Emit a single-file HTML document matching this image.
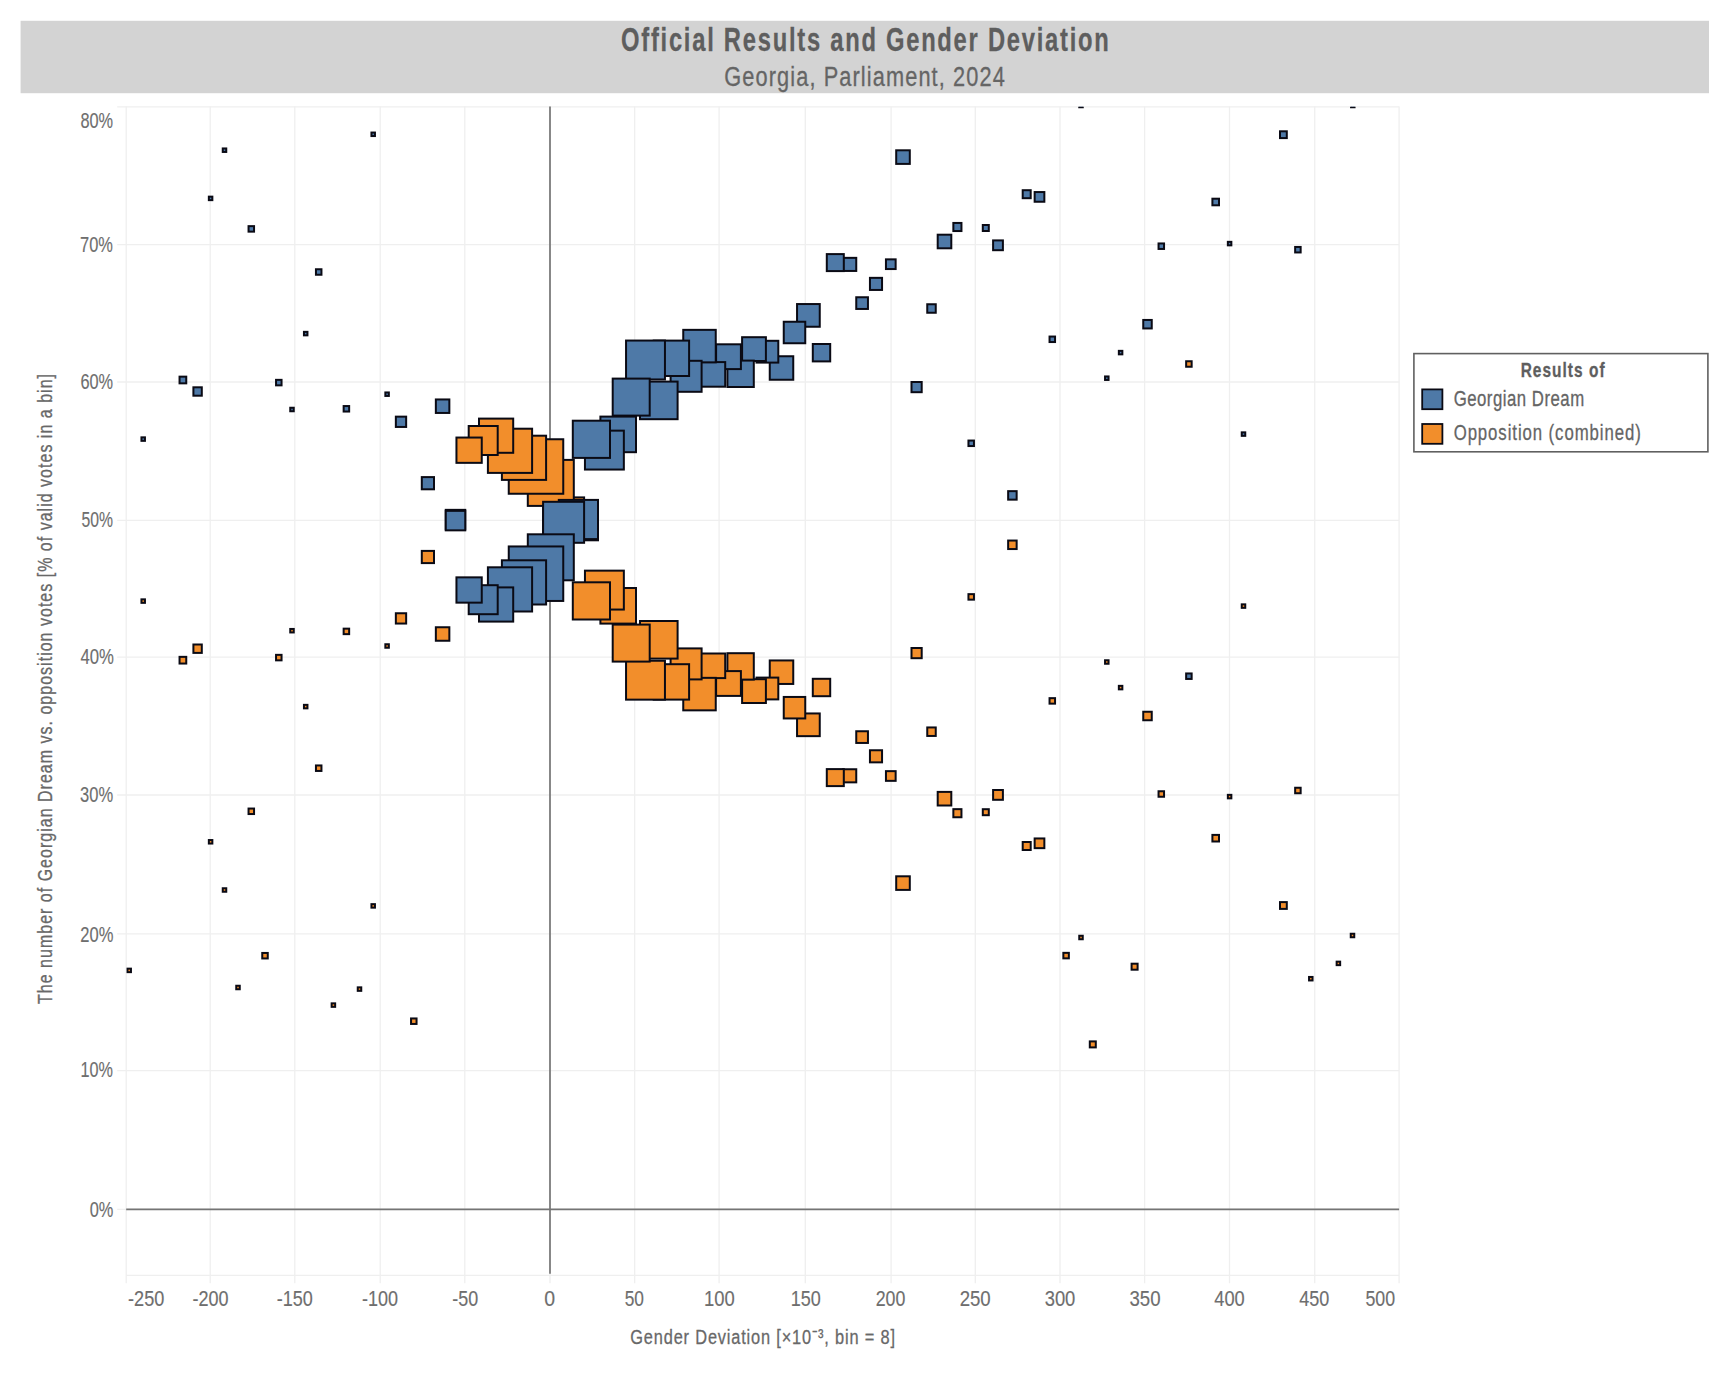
<!DOCTYPE html>
<html><head><meta charset="utf-8"><style>
html,body{margin:0;padding:0;background:#fff;overflow:hidden;}
svg{display:block;}
text{font-family:"Liberation Sans",sans-serif;}
</style></head><body>
<svg width="1732" height="1386" viewBox="0 0 1732 1386">
<rect x="0" y="0" width="1732" height="1386" fill="#fff"/>
<rect x="20.6" y="20.8" width="1688.4" height="72.4" fill="#d3d3d3"/>
<g stroke="#efefef" stroke-width="1.3" fill="none">
<line x1="126.20" y1="106.5" x2="126.20" y2="1283.3"/>
<line x1="210.20" y1="106.5" x2="210.20" y2="1283.3"/>
<line x1="294.80" y1="106.5" x2="294.80" y2="1283.3"/>
<line x1="380.20" y1="106.5" x2="380.20" y2="1283.3"/>
<line x1="464.80" y1="106.5" x2="464.80" y2="1283.3"/>
<line x1="550.00" y1="106.5" x2="550.00" y2="1283.3"/>
<line x1="634.70" y1="106.5" x2="634.70" y2="1283.3"/>
<line x1="719.10" y1="106.5" x2="719.10" y2="1283.3"/>
<line x1="805.30" y1="106.5" x2="805.30" y2="1283.3"/>
<line x1="891.10" y1="106.5" x2="891.10" y2="1283.3"/>
<line x1="975.30" y1="106.5" x2="975.30" y2="1283.3"/>
<line x1="1060.00" y1="106.5" x2="1060.00" y2="1283.3"/>
<line x1="1144.60" y1="106.5" x2="1144.60" y2="1283.3"/>
<line x1="1229.50" y1="106.5" x2="1229.50" y2="1283.3"/>
<line x1="1314.75" y1="106.5" x2="1314.75" y2="1283.3"/>
<line x1="1399.10" y1="106.5" x2="1399.10" y2="1283.3"/>
<line x1="117.2" y1="1209.30" x2="1399.1" y2="1209.30"/>
<line x1="117.2" y1="1070.60" x2="1399.1" y2="1070.60"/>
<line x1="117.2" y1="933.90" x2="1399.1" y2="933.90"/>
<line x1="117.2" y1="795.00" x2="1399.1" y2="795.00"/>
<line x1="117.2" y1="657.10" x2="1399.1" y2="657.10"/>
<line x1="117.2" y1="520.40" x2="1399.1" y2="520.40"/>
<line x1="117.2" y1="382.00" x2="1399.1" y2="382.00"/>
<line x1="117.2" y1="244.70" x2="1399.1" y2="244.70"/>
<line x1="117.2" y1="106.80" x2="1399.1" y2="106.80"/>
<line x1="126.2" y1="1275.3" x2="1399.1" y2="1275.3"/>
</g>
<line x1="550.0" y1="106.5" x2="550.0" y2="1273.8" stroke="#747474" stroke-width="1.7"/>
<line x1="126.2" y1="1209.3" x2="1399.1" y2="1209.3" stroke="#747474" stroke-width="1.7"/>
<text transform="translate(52.1,1004) rotate(-90) scale(0.78,1)" x="0" y="0" font-size="20.5" fill="#686868" stroke="#686868" stroke-width="0.3" textLength="807.69" lengthAdjust="spacing">The number of Georgian Dream vs. opposition votes [% of valid votes in a bin]</text>
<defs><clipPath id="pc"><rect x="126.2" y="106.8" width="1272.8999999999999" height="1168.5"/></clipPath></defs>
<g clip-path="url(#pc)" stroke="#0a0a14" stroke-width="2.0">
<rect x="1350.75" y="933.75" width="3.50" height="3.50" fill="#f28e2b"/>
<rect x="1336.65" y="961.65" width="3.50" height="3.50" fill="#f28e2b"/>
<rect x="1309.05" y="976.95" width="3.50" height="3.50" fill="#f28e2b"/>
<rect x="1295.15" y="787.75" width="5.50" height="5.50" fill="#f28e2b"/>
<rect x="1280.00" y="902.10" width="6.80" height="6.80" fill="#f28e2b"/>
<rect x="1241.75" y="604.35" width="3.50" height="3.50" fill="#f28e2b"/>
<rect x="1227.85" y="794.85" width="3.50" height="3.50" fill="#f28e2b"/>
<rect x="1212.40" y="834.90" width="6.60" height="6.60" fill="#f28e2b"/>
<rect x="1186.15" y="361.25" width="5.50" height="5.50" fill="#f28e2b"/>
<rect x="1158.55" y="791.25" width="5.50" height="5.50" fill="#f28e2b"/>
<rect x="1143.25" y="711.75" width="8.50" height="8.50" fill="#f28e2b"/>
<rect x="1131.60" y="963.70" width="6.00" height="6.00" fill="#f28e2b"/>
<rect x="1118.85" y="685.85" width="3.50" height="3.50" fill="#f28e2b"/>
<rect x="1105.05" y="660.25" width="3.50" height="3.50" fill="#f28e2b"/>
<rect x="1089.80" y="1041.40" width="6.00" height="6.00" fill="#f28e2b"/>
<rect x="1079.25" y="935.75" width="3.50" height="3.50" fill="#f28e2b"/>
<rect x="1063.35" y="952.85" width="5.50" height="5.50" fill="#f28e2b"/>
<rect x="1049.55" y="698.15" width="5.50" height="5.50" fill="#f28e2b"/>
<rect x="1034.65" y="838.45" width="9.70" height="9.70" fill="#f28e2b"/>
<rect x="1022.70" y="842.00" width="8.00" height="8.00" fill="#f28e2b"/>
<rect x="1008.15" y="540.55" width="8.50" height="8.50" fill="#f28e2b"/>
<rect x="993.10" y="790.00" width="9.80" height="9.80" fill="#f28e2b"/>
<rect x="982.80" y="809.20" width="6.00" height="6.00" fill="#f28e2b"/>
<rect x="968.45" y="594.15" width="5.50" height="5.50" fill="#f28e2b"/>
<rect x="953.35" y="809.15" width="8.10" height="8.10" fill="#f28e2b"/>
<rect x="937.70" y="791.90" width="13.60" height="13.60" fill="#f28e2b"/>
<rect x="927.25" y="727.45" width="8.50" height="8.50" fill="#f28e2b"/>
<rect x="911.50" y="648.00" width="10.20" height="10.20" fill="#f28e2b"/>
<rect x="896.20" y="876.30" width="13.60" height="13.60" fill="#f28e2b"/>
<rect x="885.95" y="771.15" width="9.70" height="9.70" fill="#f28e2b"/>
<rect x="869.95" y="750.25" width="12.10" height="12.10" fill="#f28e2b"/>
<rect x="856.25" y="731.25" width="11.70" height="11.70" fill="#f28e2b"/>
<rect x="843.15" y="769.25" width="13.10" height="13.10" fill="#f28e2b"/>
<rect x="826.80" y="769.10" width="17.00" height="17.00" fill="#f28e2b"/>
<rect x="812.80" y="678.80" width="17.40" height="17.40" fill="#f28e2b"/>
<rect x="797.05" y="713.45" width="22.70" height="22.70" fill="#f28e2b"/>
<rect x="783.75" y="696.95" width="21.50" height="21.50" fill="#f28e2b"/>
<rect x="769.75" y="660.45" width="23.50" height="23.50" fill="#f28e2b"/>
<rect x="756.50" y="677.60" width="21.80" height="21.80" fill="#f28e2b"/>
<rect x="742.10" y="679.20" width="23.80" height="23.80" fill="#f28e2b"/>
<rect x="727.40" y="653.20" width="26.40" height="26.40" fill="#f28e2b"/>
<rect x="716.10" y="671.10" width="24.80" height="24.80" fill="#f28e2b"/>
<rect x="700.60" y="653.50" width="24.60" height="24.60" fill="#f28e2b"/>
<rect x="683.25" y="677.85" width="32.50" height="32.50" fill="#f28e2b"/>
<rect x="670.60" y="648.40" width="31.00" height="31.00" fill="#f28e2b"/>
<rect x="653.70" y="664.20" width="35.40" height="35.40" fill="#f28e2b"/>
<rect x="640.00" y="621.00" width="37.60" height="37.60" fill="#f28e2b"/>
<rect x="626.05" y="660.75" width="38.90" height="38.90" fill="#f28e2b"/>
<rect x="612.70" y="624.60" width="37.00" height="37.00" fill="#f28e2b"/>
<rect x="600.40" y="588.00" width="35.60" height="35.60" fill="#f28e2b"/>
<rect x="584.95" y="570.65" width="38.90" height="38.90" fill="#f28e2b"/>
<rect x="572.80" y="582.30" width="37.20" height="37.20" fill="#f28e2b"/>
<rect x="558.80" y="501.10" width="39.20" height="39.20" fill="#f28e2b"/>
<rect x="543.10" y="497.40" width="41.00" height="41.00" fill="#f28e2b"/>
<rect x="527.80" y="459.90" width="46.00" height="46.00" fill="#f28e2b"/>
<rect x="508.75" y="439.25" width="54.50" height="54.50" fill="#f28e2b"/>
<rect x="501.90" y="435.70" width="44.20" height="44.20" fill="#f28e2b"/>
<rect x="487.90" y="428.70" width="44.20" height="44.20" fill="#f28e2b"/>
<rect x="479.00" y="418.60" width="34.20" height="34.20" fill="#f28e2b"/>
<rect x="468.70" y="426.00" width="29.00" height="29.00" fill="#f28e2b"/>
<rect x="456.45" y="437.55" width="25.30" height="25.30" fill="#f28e2b"/>
<rect x="445.75" y="509.85" width="19.50" height="19.50" fill="#f28e2b"/>
<rect x="435.85" y="627.25" width="13.50" height="13.50" fill="#f28e2b"/>
<rect x="421.80" y="550.90" width="12.20" height="12.20" fill="#f28e2b"/>
<rect x="411.05" y="1018.45" width="5.50" height="5.50" fill="#f28e2b"/>
<rect x="395.85" y="613.25" width="10.30" height="10.30" fill="#f28e2b"/>
<rect x="385.35" y="644.25" width="3.50" height="3.50" fill="#f28e2b"/>
<rect x="371.45" y="904.15" width="3.50" height="3.50" fill="#f28e2b"/>
<rect x="357.75" y="987.35" width="3.50" height="3.50" fill="#f28e2b"/>
<rect x="343.65" y="628.65" width="5.50" height="5.50" fill="#f28e2b"/>
<rect x="331.65" y="1003.35" width="3.50" height="3.50" fill="#f28e2b"/>
<rect x="315.95" y="765.45" width="5.50" height="5.50" fill="#f28e2b"/>
<rect x="303.95" y="704.85" width="3.50" height="3.50" fill="#f28e2b"/>
<rect x="290.25" y="628.95" width="3.50" height="3.50" fill="#f28e2b"/>
<rect x="276.05" y="654.85" width="5.50" height="5.50" fill="#f28e2b"/>
<rect x="262.25" y="952.95" width="5.50" height="5.50" fill="#f28e2b"/>
<rect x="248.55" y="808.55" width="5.50" height="5.50" fill="#f28e2b"/>
<rect x="236.25" y="985.75" width="3.50" height="3.50" fill="#f28e2b"/>
<rect x="222.75" y="888.25" width="3.50" height="3.50" fill="#f28e2b"/>
<rect x="208.85" y="840.05" width="3.50" height="3.50" fill="#f28e2b"/>
<rect x="193.40" y="644.50" width="8.40" height="8.40" fill="#f28e2b"/>
<rect x="179.55" y="656.85" width="6.70" height="6.70" fill="#f28e2b"/>
<rect x="141.45" y="599.35" width="3.50" height="3.50" fill="#f28e2b"/>
<rect x="127.45" y="968.65" width="3.50" height="3.50" fill="#f28e2b"/>
<rect x="1351.05" y="103.75" width="3.50" height="3.50" fill="#4e79a7"/>
<rect x="1336.65" y="75.05" width="3.50" height="3.50" fill="#4e79a7"/>
<rect x="1309.05" y="59.75" width="3.50" height="3.50" fill="#4e79a7"/>
<rect x="1295.15" y="246.95" width="5.50" height="5.50" fill="#4e79a7"/>
<rect x="1280.00" y="131.30" width="6.80" height="6.80" fill="#4e79a7"/>
<rect x="1241.75" y="432.35" width="3.50" height="3.50" fill="#4e79a7"/>
<rect x="1227.85" y="241.85" width="3.50" height="3.50" fill="#4e79a7"/>
<rect x="1212.40" y="198.70" width="6.60" height="6.60" fill="#4e79a7"/>
<rect x="1186.15" y="673.45" width="5.50" height="5.50" fill="#4e79a7"/>
<rect x="1158.55" y="243.45" width="5.50" height="5.50" fill="#4e79a7"/>
<rect x="1143.25" y="319.95" width="8.50" height="8.50" fill="#4e79a7"/>
<rect x="1131.60" y="70.50" width="6.00" height="6.00" fill="#4e79a7"/>
<rect x="1118.85" y="350.85" width="3.50" height="3.50" fill="#4e79a7"/>
<rect x="1105.05" y="376.45" width="3.50" height="3.50" fill="#4e79a7"/>
<rect x="1089.80" y="-7.20" width="6.00" height="6.00" fill="#4e79a7"/>
<rect x="1079.25" y="103.75" width="3.50" height="3.50" fill="#4e79a7"/>
<rect x="1063.35" y="81.85" width="5.50" height="5.50" fill="#4e79a7"/>
<rect x="1049.55" y="336.55" width="5.50" height="5.50" fill="#4e79a7"/>
<rect x="1034.65" y="192.05" width="9.70" height="9.70" fill="#4e79a7"/>
<rect x="1022.70" y="190.20" width="8.00" height="8.00" fill="#4e79a7"/>
<rect x="1008.15" y="491.15" width="8.50" height="8.50" fill="#4e79a7"/>
<rect x="993.10" y="240.40" width="9.80" height="9.80" fill="#4e79a7"/>
<rect x="982.80" y="225.00" width="6.00" height="6.00" fill="#4e79a7"/>
<rect x="968.45" y="440.55" width="5.50" height="5.50" fill="#4e79a7"/>
<rect x="953.35" y="222.95" width="8.10" height="8.10" fill="#4e79a7"/>
<rect x="937.70" y="234.70" width="13.60" height="13.60" fill="#4e79a7"/>
<rect x="927.25" y="304.25" width="8.50" height="8.50" fill="#4e79a7"/>
<rect x="911.50" y="382.00" width="10.20" height="10.20" fill="#4e79a7"/>
<rect x="896.20" y="150.30" width="13.60" height="13.60" fill="#4e79a7"/>
<rect x="885.95" y="259.35" width="9.70" height="9.70" fill="#4e79a7"/>
<rect x="869.95" y="277.85" width="12.10" height="12.10" fill="#4e79a7"/>
<rect x="856.25" y="297.25" width="11.70" height="11.70" fill="#4e79a7"/>
<rect x="843.15" y="257.85" width="13.10" height="13.10" fill="#4e79a7"/>
<rect x="826.80" y="254.10" width="17.00" height="17.00" fill="#4e79a7"/>
<rect x="812.80" y="344.00" width="17.40" height="17.40" fill="#4e79a7"/>
<rect x="797.05" y="304.05" width="22.70" height="22.70" fill="#4e79a7"/>
<rect x="783.75" y="321.75" width="21.50" height="21.50" fill="#4e79a7"/>
<rect x="769.75" y="356.25" width="23.50" height="23.50" fill="#4e79a7"/>
<rect x="756.50" y="340.80" width="21.80" height="21.80" fill="#4e79a7"/>
<rect x="742.10" y="337.20" width="23.80" height="23.80" fill="#4e79a7"/>
<rect x="727.40" y="360.60" width="26.40" height="26.40" fill="#4e79a7"/>
<rect x="716.10" y="344.30" width="24.80" height="24.80" fill="#4e79a7"/>
<rect x="700.60" y="362.10" width="24.60" height="24.60" fill="#4e79a7"/>
<rect x="683.25" y="329.85" width="32.50" height="32.50" fill="#4e79a7"/>
<rect x="670.60" y="360.80" width="31.00" height="31.00" fill="#4e79a7"/>
<rect x="653.70" y="340.60" width="35.40" height="35.40" fill="#4e79a7"/>
<rect x="640.00" y="381.60" width="37.60" height="37.60" fill="#4e79a7"/>
<rect x="626.05" y="340.55" width="38.90" height="38.90" fill="#4e79a7"/>
<rect x="612.70" y="378.60" width="37.00" height="37.00" fill="#4e79a7"/>
<rect x="600.40" y="416.60" width="35.60" height="35.60" fill="#4e79a7"/>
<rect x="584.95" y="430.65" width="38.90" height="38.90" fill="#4e79a7"/>
<rect x="572.80" y="420.70" width="37.20" height="37.20" fill="#4e79a7"/>
<rect x="558.80" y="499.90" width="39.20" height="39.20" fill="#4e79a7"/>
<rect x="543.10" y="501.80" width="41.00" height="41.00" fill="#4e79a7"/>
<rect x="527.80" y="534.30" width="46.00" height="46.00" fill="#4e79a7"/>
<rect x="508.75" y="546.45" width="54.50" height="54.50" fill="#4e79a7"/>
<rect x="501.90" y="560.30" width="44.20" height="44.20" fill="#4e79a7"/>
<rect x="487.90" y="567.30" width="44.20" height="44.20" fill="#4e79a7"/>
<rect x="479.00" y="587.40" width="34.20" height="34.20" fill="#4e79a7"/>
<rect x="468.70" y="585.20" width="29.00" height="29.00" fill="#4e79a7"/>
<rect x="456.45" y="577.35" width="25.30" height="25.30" fill="#4e79a7"/>
<rect x="445.75" y="510.85" width="19.50" height="19.50" fill="#4e79a7"/>
<rect x="435.85" y="399.45" width="13.50" height="13.50" fill="#4e79a7"/>
<rect x="421.80" y="477.10" width="12.20" height="12.20" fill="#4e79a7"/>
<rect x="411.05" y="16.25" width="5.50" height="5.50" fill="#4e79a7"/>
<rect x="395.85" y="416.65" width="10.30" height="10.30" fill="#4e79a7"/>
<rect x="385.35" y="392.45" width="3.50" height="3.50" fill="#4e79a7"/>
<rect x="371.45" y="132.55" width="3.50" height="3.50" fill="#4e79a7"/>
<rect x="357.75" y="49.35" width="3.50" height="3.50" fill="#4e79a7"/>
<rect x="343.65" y="406.05" width="5.50" height="5.50" fill="#4e79a7"/>
<rect x="331.65" y="33.35" width="3.50" height="3.50" fill="#4e79a7"/>
<rect x="315.95" y="269.25" width="5.50" height="5.50" fill="#4e79a7"/>
<rect x="303.95" y="331.85" width="3.50" height="3.50" fill="#4e79a7"/>
<rect x="290.25" y="407.75" width="3.50" height="3.50" fill="#4e79a7"/>
<rect x="276.05" y="379.85" width="5.50" height="5.50" fill="#4e79a7"/>
<rect x="262.25" y="81.75" width="5.50" height="5.50" fill="#4e79a7"/>
<rect x="248.55" y="226.15" width="5.50" height="5.50" fill="#4e79a7"/>
<rect x="236.25" y="50.95" width="3.50" height="3.50" fill="#4e79a7"/>
<rect x="222.75" y="148.45" width="3.50" height="3.50" fill="#4e79a7"/>
<rect x="208.85" y="196.65" width="3.50" height="3.50" fill="#4e79a7"/>
<rect x="193.40" y="387.30" width="8.40" height="8.40" fill="#4e79a7"/>
<rect x="179.55" y="376.65" width="6.70" height="6.70" fill="#4e79a7"/>
<rect x="141.45" y="437.35" width="3.50" height="3.50" fill="#4e79a7"/>
<rect x="127.45" y="68.05" width="3.50" height="3.50" fill="#4e79a7"/>
</g>
<rect x="1413.9" y="353.6" width="294" height="98.2" fill="#fff" stroke="#606060" stroke-width="1.6"/>
<rect x="1422.2" y="389.4" width="20.2" height="19.8" fill="#4e79a7" stroke="#0a0a14" stroke-width="1.8"/>
<rect x="1422.2" y="424.0" width="20.2" height="19.8" fill="#f28e2b" stroke="#0a0a14" stroke-width="1.8"/>
<text transform="translate(864.90,51.30) scale(0.72,1)" x="0" y="0" text-anchor="middle" font-size="33.00" font-weight="bold" fill="#5e5e5e" stroke="#5e5e5e" stroke-width="0.3" textLength="677.36" lengthAdjust="spacing">Official Results and Gender Deviation</text>
<text transform="translate(864.50,85.90) scale(0.8,1)" x="0" y="0" text-anchor="middle" font-size="27.20" font-weight="normal" fill="#656565" stroke="#656565" stroke-width="0.3" textLength="350.62" lengthAdjust="spacing">Georgia, Parliament, 2024</text>
<text transform="translate(1562.60,376.80) scale(0.75,1)" x="0" y="0" text-anchor="middle" font-size="20.60" font-weight="bold" fill="#5e5e5e" stroke="#5e5e5e" stroke-width="0.3" textLength="111.86" lengthAdjust="spacing">Results of</text>
<text transform="translate(1518.90,406.30) scale(0.78,1)" x="0" y="0" text-anchor="middle" font-size="21.50" font-weight="normal" fill="#656565" stroke="#656565" stroke-width="0.3" textLength="167.30" lengthAdjust="spacing">Georgian Dream</text>
<text transform="translate(1547.20,440.40) scale(0.78,1)" x="0" y="0" text-anchor="middle" font-size="21.50" font-weight="normal" fill="#656565" stroke="#656565" stroke-width="0.3" textLength="239.88" lengthAdjust="spacing">Opposition (combined)</text>
<text x="146.20" y="1306.10" text-anchor="middle" font-size="21.90" font-weight="normal" fill="#6e6e6e" stroke="#6e6e6e" stroke-width="0.15" textLength="36.30" lengthAdjust="spacingAndGlyphs">-250</text>
<text x="210.50" y="1306.10" text-anchor="middle" font-size="21.90" font-weight="normal" fill="#6e6e6e" stroke="#6e6e6e" stroke-width="0.15" textLength="36.08" lengthAdjust="spacingAndGlyphs">-200</text>
<text x="294.70" y="1306.10" text-anchor="middle" font-size="21.90" font-weight="normal" fill="#6e6e6e" stroke="#6e6e6e" stroke-width="0.15" textLength="36.09" lengthAdjust="spacingAndGlyphs">-150</text>
<text x="380.10" y="1306.10" text-anchor="middle" font-size="21.90" font-weight="normal" fill="#6e6e6e" stroke="#6e6e6e" stroke-width="0.15" textLength="36.09" lengthAdjust="spacingAndGlyphs">-100</text>
<text x="465.20" y="1306.10" text-anchor="middle" font-size="21.90" font-weight="normal" fill="#6e6e6e" stroke="#6e6e6e" stroke-width="0.15" textLength="25.89" lengthAdjust="spacingAndGlyphs">-50</text>
<text x="549.70" y="1306.10" text-anchor="middle" font-size="21.90" font-weight="normal" fill="#6e6e6e" stroke="#6e6e6e" stroke-width="0.15" textLength="10.86" lengthAdjust="spacingAndGlyphs">0</text>
<text x="634.30" y="1306.10" text-anchor="middle" font-size="21.90" font-weight="normal" fill="#6e6e6e" stroke="#6e6e6e" stroke-width="0.15" textLength="19.27" lengthAdjust="spacingAndGlyphs">50</text>
<text x="719.40" y="1306.10" text-anchor="middle" font-size="21.90" font-weight="normal" fill="#6e6e6e" stroke="#6e6e6e" stroke-width="0.15" textLength="30.75" lengthAdjust="spacingAndGlyphs">100</text>
<text x="805.70" y="1306.10" text-anchor="middle" font-size="21.90" font-weight="normal" fill="#6e6e6e" stroke="#6e6e6e" stroke-width="0.15" textLength="30.09" lengthAdjust="spacingAndGlyphs">150</text>
<text x="890.50" y="1306.10" text-anchor="middle" font-size="21.90" font-weight="normal" fill="#6e6e6e" stroke="#6e6e6e" stroke-width="0.15" textLength="29.68" lengthAdjust="spacingAndGlyphs">200</text>
<text x="975.20" y="1306.10" text-anchor="middle" font-size="21.90" font-weight="normal" fill="#6e6e6e" stroke="#6e6e6e" stroke-width="0.15" textLength="31.12" lengthAdjust="spacingAndGlyphs">250</text>
<text x="1060.00" y="1306.10" text-anchor="middle" font-size="21.90" font-weight="normal" fill="#6e6e6e" stroke="#6e6e6e" stroke-width="0.15" textLength="30.71" lengthAdjust="spacingAndGlyphs">300</text>
<text x="1145.00" y="1306.10" text-anchor="middle" font-size="21.90" font-weight="normal" fill="#6e6e6e" stroke="#6e6e6e" stroke-width="0.15" textLength="31.09" lengthAdjust="spacingAndGlyphs">350</text>
<text x="1229.50" y="1306.10" text-anchor="middle" font-size="21.90" font-weight="normal" fill="#6e6e6e" stroke="#6e6e6e" stroke-width="0.15" textLength="30.48" lengthAdjust="spacingAndGlyphs">400</text>
<text x="1314.30" y="1306.10" text-anchor="middle" font-size="21.90" font-weight="normal" fill="#6e6e6e" stroke="#6e6e6e" stroke-width="0.15" textLength="30.08" lengthAdjust="spacingAndGlyphs">450</text>
<text x="1380.30" y="1306.10" text-anchor="middle" font-size="21.90" font-weight="normal" fill="#6e6e6e" stroke="#6e6e6e" stroke-width="0.15" textLength="29.68" lengthAdjust="spacingAndGlyphs">500</text>
<text x="96.80" y="127.83" text-anchor="middle" font-size="21.90" font-weight="normal" fill="#6e6e6e" stroke="#6e6e6e" stroke-width="0.15" textLength="32.68" lengthAdjust="spacingAndGlyphs">80%</text>
<text x="96.50" y="252.34" text-anchor="middle" font-size="21.90" font-weight="normal" fill="#6e6e6e" stroke="#6e6e6e" stroke-width="0.15" textLength="32.89" lengthAdjust="spacingAndGlyphs">70%</text>
<text x="96.80" y="388.83" text-anchor="middle" font-size="21.90" font-weight="normal" fill="#6e6e6e" stroke="#6e6e6e" stroke-width="0.15" textLength="32.68" lengthAdjust="spacingAndGlyphs">60%</text>
<text x="97.20" y="527.49" text-anchor="middle" font-size="21.90" font-weight="normal" fill="#6e6e6e" stroke="#6e6e6e" stroke-width="0.15" textLength="31.50" lengthAdjust="spacingAndGlyphs">50%</text>
<text x="97.20" y="664.00" text-anchor="middle" font-size="21.90" font-weight="normal" fill="#6e6e6e" stroke="#6e6e6e" stroke-width="0.15" textLength="33.48" lengthAdjust="spacingAndGlyphs">40%</text>
<text x="96.60" y="802.49" text-anchor="middle" font-size="21.90" font-weight="normal" fill="#6e6e6e" stroke="#6e6e6e" stroke-width="0.15" textLength="33.08" lengthAdjust="spacingAndGlyphs">30%</text>
<text x="96.80" y="941.51" text-anchor="middle" font-size="21.90" font-weight="normal" fill="#6e6e6e" stroke="#6e6e6e" stroke-width="0.15" textLength="33.08" lengthAdjust="spacingAndGlyphs">20%</text>
<text x="96.70" y="1077.49" text-anchor="middle" font-size="21.90" font-weight="normal" fill="#6e6e6e" stroke="#6e6e6e" stroke-width="0.15" textLength="32.48" lengthAdjust="spacingAndGlyphs">10%</text>
<text x="101.50" y="1216.68" text-anchor="middle" font-size="21.90" font-weight="normal" fill="#6e6e6e" stroke="#6e6e6e" stroke-width="0.15" textLength="23.68" lengthAdjust="spacingAndGlyphs">0%</text>
<text transform="translate(762.60,1344.20) scale(0.78,1)" x="0" y="0" text-anchor="middle" font-size="21.00" font-weight="normal" fill="#686868" stroke="#686868" stroke-width="0.3" textLength="339.36" lengthAdjust="spacing">Gender Deviation [×10⁻³, bin = 8]</text>
</svg>
</body></html>
